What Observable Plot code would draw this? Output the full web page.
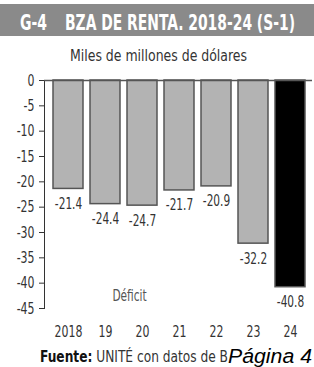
<!DOCTYPE html>
<html>
<head>
<meta charset="utf-8">
<script src="https://cdn.jsdelivr.net/npm/d3@7"></script>
<script src="https://cdn.jsdelivr.net/npm/@observablehq/plot@0.6"></script>
<style>
  html, body { margin:0; padding:0; background:#fff; }
  body { width:314px; height:367px; position:relative; overflow:hidden; }
  .abs { position:absolute; white-space:pre; line-height:normal; display:inline-block; transform-origin:left top; }
  .narrow { font-family:"Liberation Sans Narrow","DejaVu Sans Condensed","Liberation Sans",sans-serif; }
</style>
</head>
<body>
<div class="abs" style="left:0;top:4px;width:314px;height:32px;background:#8a8a8a;"></div>
<span id="titleA" class="abs narrow" style="left:20px;top:11px;font-size:21px;font-weight:bold;color:#fff;"></span>
<span id="titleB" class="abs narrow" style="left:65px;top:11px;font-size:21px;font-weight:bold;color:#fff;"></span>
<span id="sub" class="abs narrow" style="top:46px;font-size:16px;color:#333;"></span>
<div id="chart" class="abs" style="left:0;top:65px;"></div>
<span id="cap" class="abs narrow" style="left:40px;top:348px;font-size:15px;color:#333;"><b id="capb" style="color:#111"></b><span id="capr"></span></span>
<span id="page" class="abs" style="left:228px;top:345px;font-size:20px;font-style:italic;color:#000;font-family:'Liberation Sans',Arial,sans-serif;"></span>
<script>
const titleCode = "G-4";
const titleText = "BZA DE RENTA. 2018-24 (S-1)";
const subtitleText = "Miles de millones de dólares";
const sourceLabel = "Fuente:";
const sourceText = " UNITÉ con datos de B";
const pageText = "Página 4";
const noteText = ["Déficit"];

const years = ["2018", "19", "20", "21", "22", "23", "24"];
const values = [-21.4, -24.4, -24.7, -21.7, -20.9, -32.2, -40.8];
const valueLabels = ["-21.4", "-24.4", "-24.7", "-21.7", "-20.9", "-32.2", "-40.8"];
const highlighted = [false, false, false, false, false, false, true];
const yTicks = [0, -5, -10, -15, -20, -25, -30, -35, -40, -45];

const data = years.map((y, i) => ({year: y, value: values[i], label: valueLabels[i], hi: highlighted[i]}));

document.getElementById("titleA").textContent = titleCode;
document.getElementById("titleB").textContent = titleText;
document.getElementById("sub").textContent = subtitleText;
document.getElementById("capb").textContent = sourceLabel;
document.getElementById("capr").textContent = sourceText;
document.getElementById("page").textContent = pageText;

function fit(id, w) {
  const el = document.getElementById(id);
  const r = el.getBoundingClientRect().width;
  if (r > 0) el.style.transform = `scaleX(${w / r})`;
}
fit("titleA", 27);
fit("titleB", 230);
fit("sub", 177);
document.getElementById("sub").style.left = (158 - 177 / 2) + "px";
fit("cap", 188);
fit("page", 84);

const FONT = "'Liberation Sans Narrow','DejaVu Sans Condensed','Liberation Sans',sans-serif";

const chart = Plot.plot({
  width: 314,
  height: 280,
  marginLeft: 44,
  marginRight: 2,
  marginTop: 15,
  marginBottom: 37,
  style: {fontFamily: FONT, fontSize: "16px", color: "#333", background: "transparent", overflow: "visible"},
  color: {type: "identity"},
  x: {domain: years, range: [47, 311], paddingInner: 0.18, paddingOuter: 0.08, label: null, tickSize: 0, tickPadding: 17},
  y: {domain: [-45, 0], ticks: yTicks, tickFormat: d => String(d), tickSize: 5, tickPadding: 5, label: null, line: true},
  marks: [
    Plot.barY(data, {x: "year", y: "value", fill: d => d.hi ? "#000" : "#b3b3b3", stroke: "#555", strokeWidth: 1.5}),
    Plot.ruleY([0], {stroke: "#555", strokeWidth: 1.5}),
    Plot.text(data, {x: "year", y: "value", text: "label", dy: 15, fontSize: 15.5, fill: "#333"}),
    Plot.text(noteText, {x: () => "19", y: () => -42.6, text: d => d, dx: 24, fontSize: 15.5, fill: "#555"})
  ]
});
document.getElementById("chart").appendChild(chart);

// condense SVG text horizontally around its anchor point
const SQUEEZE = 0.76;
chart.querySelectorAll("text").forEach(t => {
  const b = t.getBBox();
  const anchor = getComputedStyle(t).textAnchor;
  const cx = anchor === "end" ? b.x + b.width : anchor === "middle" ? b.x + b.width / 2 : b.x;
  const prev = t.getAttribute("transform") || "";
  t.setAttribute("transform", `${prev} translate(${cx},0) scale(${SQUEEZE},1) translate(${-cx},0)`);
});
</script>
</body>
</html>
